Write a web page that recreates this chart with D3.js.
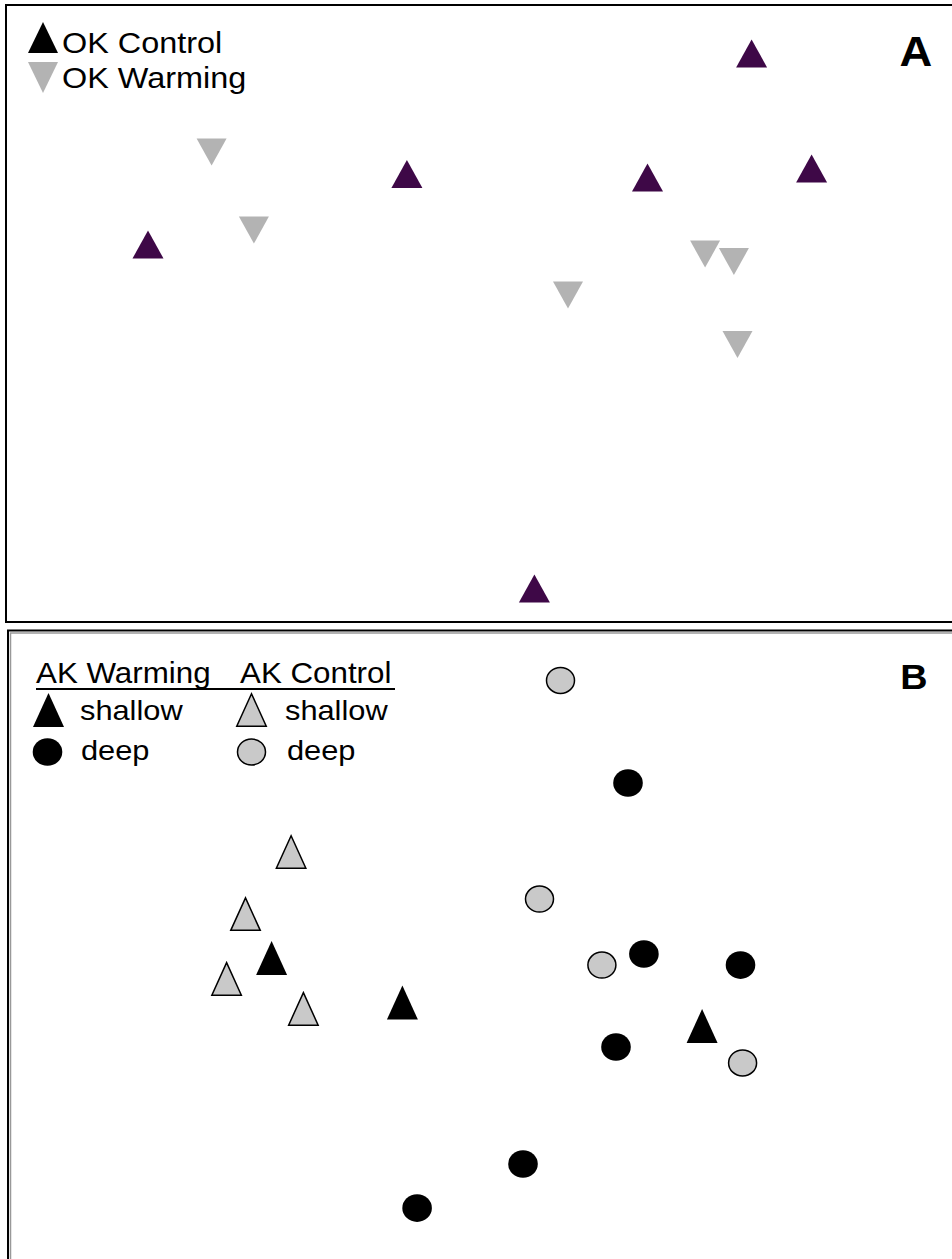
<!DOCTYPE html>
<html>
<head>
<meta charset="utf-8">
<script src="https://cdn.jsdelivr.net/npm/d3@7"></script>
<style>
  html, body { margin: 0; padding: 0; background: #fff; }
  svg { display: block; }
  text { font-family: "Liberation Sans", Arial, sans-serif; fill: #000; }
</style>
</head>
<body>
<div id="chart"></div>
<script>
// NMDS ordination scores (axis 1, axis 2)
// Panel A: Oklahoma plots
const okControlX = [-1.100, -0.237, 0.565, 1.112, 0.912, 0.188];
const okControlY = [0.230, 0.465, 0.453, 0.483, 0.867, -0.917];
const okWarmingX = [-0.888, -0.747, 0.300, 0.757, 0.853, 0.865];
const okWarmingY = [0.538, 0.278, 0.062, 0.198, 0.173, -0.103];

// Panel B: Alaska plots by depth
const akWarmShallowX = [-0.688, -0.252, 0.747];
const akWarmShallowY = [-0.043, -0.192, -0.270];
const akCtrlShallowX = [-0.623, -0.775, -0.838, -0.582];
const akCtrlShallowY = [0.310, 0.103, -0.113, -0.213];
const akWarmDeepX = [0.500, 0.553, 0.875, 0.460, 0.150, -0.203];
const akWarmDeepY = [0.540, -0.030, -0.067, -0.340, -0.730, -0.877];
const akCtrlDeepX = [0.275, 0.205, 0.413, 0.882];
const akCtrlDeepY = [0.882, 0.153, -0.067, -0.393];

const panelLabels = ["A", "B"];
const legendA = ["OK Control", "OK Warming"];
const legendBHeads = ["AK Warming", "AK Control"];
const legendBRows = ["shallow", "deep"];

const W = 952, H = 1259;
const svg = d3.select("#chart").append("svg").attr("width", W).attr("height", H);

const zip = (xs, ys) => xs.map((x, i) => ({ x, y: ys[i] }));

// Scales
const xA = d3.scaleLinear().domain([-1.5, 1.5]).range([28, 928]);
const yA = d3.scaleLinear().domain([-1, 1]).range([613.5, 13.5]);
const xB = d3.scaleLinear().domain([-1.5, 1.5]).range([28, 928]);
const yB = d3.scaleLinear().domain([-1, 1]).range([1245, 645]);

// Triangle path centred on its bounding box
function tri(w, h, up) {
  const a = up ? -h / 2 : h / 2, b = up ? h / 2 : -h / 2;
  return `M0,${a}L${w / 2},${b}L${-w / 2},${b}Z`;
}

const stretch = 1.08; // horizontal text stretch
function label(g, txt, x, y, size, opts = {}) {
  return g.append("text")
    .attr("transform", `translate(${x},${y}) scale(${stretch},1)`)
    .attr("font-size", size)
    .attr("font-weight", opts.bold ? "bold" : null)
    .attr("text-anchor", opts.anchor || "start")
    .text(txt);
}

const PURPLE = "#3e0847", GREY_A = "#b3b3b3", GREY_B = "#c9c9c9";

// ---------- Panel A ----------
const gA = svg.append("g");
gA.append("path").attr("d", `M960,5H6V622H960`).attr("fill", "none")
  .attr("stroke", "#000").attr("stroke-width", 2);

gA.selectAll("path.ctl").data(zip(okControlX, okControlY)).join("path")
  .attr("class", "ctl")
  .attr("d", tri(31, 28, true))
  .attr("transform", d => `translate(${xA(d.x)},${yA(d.y)})`)
  .attr("fill", PURPLE);

gA.selectAll("path.wrm").data(zip(okWarmingX, okWarmingY)).join("path")
  .attr("class", "wrm")
  .attr("d", tri(30, 27, false))
  .attr("transform", d => `translate(${xA(d.x)},${yA(d.y)})`)
  .attr("fill", GREY_A);

// Legend A
gA.append("path").attr("d", tri(30, 31, true)).attr("transform", "translate(43,37.5)").attr("fill", "#000");
gA.append("path").attr("d", tri(30, 31, false)).attr("transform", "translate(43,77.5)").attr("fill", GREY_A);
label(gA, legendA[0], 62, 53, 30);
label(gA, legendA[1], 62, 88, 30);
label(gA, panelLabels[0], 916, 66, 42, { bold: true, anchor: "middle" });

// ---------- Panel B ----------
const gB = svg.append("g");
gB.append("path").attr("d", `M960,630.5H8V1270`).attr("fill", "none")
  .attr("stroke", "#000").attr("stroke-width", 2);
gB.append("path").attr("d", `M960,633H10.5V1270`).attr("fill", "none")
  .attr("stroke", "#999").attr("stroke-width", 1.5);

const ellipse = (sel, data, fill, stroke) => sel.append("g").selectAll("ellipse")
  .data(data).join("ellipse")
  .attr("cx", d => xB(d.x)).attr("cy", d => yB(d.y))
  .attr("rx", stroke ? 14 : 14.8).attr("ry", stroke ? 13 : 13.8)
  .attr("fill", fill)
  .attr("stroke", stroke ? "#000" : "none").attr("stroke-width", 1.5);

const triangles = (sel, data, fill, stroke) => sel.append("g").selectAll("path")
  .data(data).join("path")
  .attr("d", stroke ? tri(29.5, 32.5, true) : tri(31, 34, true))
  .attr("transform", d => `translate(${xB(d.x)},${yB(d.y)})`)
  .attr("fill", fill)
  .attr("stroke", stroke ? "#000" : "none").attr("stroke-width", 1.5)
  .attr("stroke-linejoin", "miter");

triangles(gB, zip(akCtrlShallowX, akCtrlShallowY), GREY_B, true);
triangles(gB, zip(akWarmShallowX, akWarmShallowY), "#000", false);
ellipse(gB, zip(akCtrlDeepX, akCtrlDeepY), GREY_B, true);
ellipse(gB, zip(akWarmDeepX, akWarmDeepY), "#000", false);

// Legend B
label(gB, legendBHeads[0], 36, 683, 29);
label(gB, legendBHeads[1], 240, 683, 29);
gB.append("line").attr("x1", 36).attr("x2", 395).attr("y1", 689).attr("y2", 689)
  .attr("stroke", "#000").attr("stroke-width", 2);

gB.append("path").attr("d", tri(31, 34, true)).attr("transform", "translate(48.5,710)").attr("fill", "#000");
gB.append("path").attr("d", tri(29.5, 32.5, true)).attr("transform", "translate(251.5,710)")
  .attr("fill", GREY_B).attr("stroke", "#000").attr("stroke-width", 1.5);
gB.append("ellipse").attr("cx", 47.5).attr("cy", 752).attr("rx", 14.8).attr("ry", 13.8).attr("fill", "#000");
gB.append("ellipse").attr("cx", 251.5).attr("cy", 752).attr("rx", 14).attr("ry", 13)
  .attr("fill", GREY_B).attr("stroke", "#000").attr("stroke-width", 1.5);

label(gB, legendBRows[0], 80, 720, 28.5);
label(gB, legendBRows[1], 81, 760, 28.5);
label(gB, legendBRows[0], 285, 720, 28.5);
label(gB, legendBRows[1], 287, 760, 28.5);
label(gB, panelLabels[1], 914, 689, 35, { bold: true, anchor: "middle" });
</script>
</body>
</html>
